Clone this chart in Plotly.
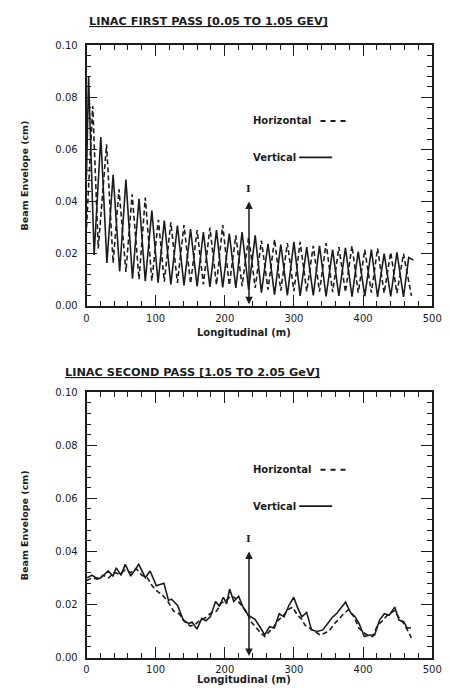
import plotly.graph_objects as go

# ---------------- data: first pass (top panel) ----------------
p1_vert_x = [0, 3, 11, 20.7, 29.5, 38.5, 48, 57, 66.5, 76, 85, 94.5, 103.5, 112.5, 122,
             131.5, 141, 150.5, 160, 169, 178.5, 188, 197, 206.5, 216, 225, 234.5, 244,
             253, 262.5, 272, 281, 290.5, 300, 309, 318.5, 328, 337, 346.5, 356, 365,
             374.5, 384, 393, 402.5, 412, 421, 430.5, 440, 449, 458.5, 466, 473]
p1_vert_y = [0.050, 0.088, 0.0195, 0.0648, 0.0164, 0.0503, 0.0132, 0.0484, 0.0104, 0.0411,
             0.0094, 0.0365, 0.0088, 0.0327, 0.0082, 0.0308, 0.0078, 0.0294, 0.0074, 0.0283,
             0.0072, 0.0290, 0.0070, 0.0277, 0.0068, 0.0283, 0.0062, 0.0270, 0.0050, 0.0238,
             0.0042, 0.0235, 0.0040, 0.0245, 0.0038, 0.0225, 0.0040, 0.0230, 0.0036, 0.0215,
             0.0038, 0.0222, 0.0035, 0.0208, 0.0037, 0.0215, 0.0034, 0.0200, 0.0036, 0.0205,
             0.0034, 0.0185, 0.0175]

p1_horz_x = [0, 9, 17, 29, 38.5, 47, 57, 66, 76, 85, 94.5, 104, 112.5, 122, 131.5, 141,
             150.5, 160, 169, 178.5, 188, 197, 206.5, 216, 225, 234.5, 244, 253, 262.5,
             272, 281, 290.5, 300, 309, 318.5, 328, 337, 346.5, 356, 365, 374.5, 384, 393,
             402.5, 412, 421, 430.5, 440, 449, 458.5, 470]
p1_horz_y = [0.030, 0.0767, 0.0220, 0.0620, 0.0164, 0.0447, 0.0130, 0.0428, 0.0101, 0.0415,
             0.0096, 0.0330, 0.0092, 0.0320, 0.0088, 0.0310, 0.0085, 0.0290, 0.0082, 0.0300,
             0.0080, 0.0310, 0.0078, 0.0270, 0.0075, 0.0265, 0.0068, 0.0250, 0.0062, 0.0255,
             0.0058, 0.0240, 0.0056, 0.0245, 0.0055, 0.0230, 0.0054, 0.0240, 0.0052, 0.0225,
             0.0052, 0.0230, 0.0050, 0.0215, 0.0050, 0.0220, 0.0048, 0.0205, 0.0048, 0.0200,
             0.0038]

# ---------------- data: second pass (bottom panel) ----------------
p2_vert_x = [1, 8, 14, 19.6, 25, 31.3, 38.3, 43, 50, 56, 64, 70, 75.6, 85, 92, 101, 112,
             118.6, 123, 131.7, 140, 148, 152.6, 159.7, 166.7, 172.7, 179, 186.7, 192, 198,
             202.6, 207, 213, 220, 227, 234, 243.7, 250.7, 257.7, 264.7, 271.7, 278.7,
             285.7, 292.7, 299.7, 305, 311.4, 318.4, 325.4, 333.4, 341.8, 348.8, 355,
             361.6, 367.7, 374.7, 381.7, 388.7, 394.3, 401.8, 409.8, 416.8, 423.8, 430.8,
             437.8, 445.8, 452, 459, 463.7, 469.3]
p2_vert_y = [0.0301, 0.0310, 0.0300, 0.0298, 0.0310, 0.0326, 0.0307, 0.0338, 0.0310, 0.0351,
             0.0307, 0.0330, 0.0351, 0.0301, 0.0326, 0.0270, 0.0280, 0.0215, 0.0220, 0.0196,
             0.0141, 0.0128, 0.0134, 0.0107, 0.0147, 0.0138, 0.0153, 0.0211, 0.0194, 0.0227,
             0.0202, 0.0258, 0.0211, 0.0231, 0.0186, 0.0160, 0.0144, 0.0116, 0.0085, 0.0116,
             0.0111, 0.0165, 0.0153, 0.0196, 0.0227, 0.0190, 0.0153, 0.0170, 0.0104, 0.0098,
             0.0104, 0.0128, 0.0150, 0.0165, 0.0185, 0.0209, 0.0170, 0.0153, 0.0128, 0.0079,
             0.0085, 0.0085, 0.0141, 0.0165, 0.0159, 0.0190, 0.0141, 0.0134, 0.0111, 0.0112]

p2_horz_x = [0, 8, 16, 24, 32, 40, 48, 56, 64, 72, 80, 88, 95, 102, 110, 118, 126, 134,
             142, 150, 157, 164, 172, 180, 188, 195, 202, 209, 216, 224, 231, 238, 244,
             251, 258, 265, 271, 277, 284, 291, 298, 305, 311, 316, 323, 330, 338, 345,
             352, 358, 365, 372, 379, 387, 394, 400, 406, 414, 421, 428, 435, 445, 453,
             459, 464, 470]
p2_horz_y = [0.0290, 0.0300, 0.0295, 0.0310, 0.0300, 0.0320, 0.0315, 0.0330, 0.0320, 0.0335,
             0.0310, 0.0300, 0.0270, 0.0250, 0.0235, 0.0210, 0.0175, 0.0165, 0.0135, 0.0118,
             0.0125, 0.0140, 0.0150, 0.0168, 0.0175, 0.0205, 0.0215, 0.0232, 0.0222, 0.0198,
             0.0175, 0.0135, 0.0115, 0.0095, 0.0079, 0.0100, 0.0116, 0.0140, 0.0155, 0.0180,
             0.0190, 0.0160, 0.0145, 0.0122, 0.0110, 0.0098, 0.0085, 0.0092, 0.0104, 0.0125,
             0.0147, 0.0165, 0.0180, 0.0153, 0.0111, 0.0095, 0.0085, 0.0079, 0.0122, 0.0138,
             0.0159, 0.0176, 0.0147, 0.0128, 0.0104, 0.0074]

arrow_pos = 235          # m, location of the marker arrow
arrow_top = 0.040        # cm

x_ticks = [0, 100, 200, 300, 400, 500]
y_ticks = [0.00, 0.02, 0.04, 0.06, 0.08, 0.10]
y_tick_text = ["0.00", "0.02", "0.04", "0.06", "0.08", "0.10"]

title_top = "LINAC FIRST PASS [0.05 TO 1.05 GEV]"
title_bot = "LINAC SECOND PASS [1.05 TO 2.05 GeV]"

# ---------------- figure ----------------
W, H = 449, 692
INK = "#1c1c1c"
FONT = "DejaVu Sans"

def px(x):
    return x / W

def py(y):
    return (H - y) / H

fig = go.Figure()

fig.add_trace(go.Scatter(x=p1_horz_x, y=p1_horz_y, mode="lines", xaxis="x", yaxis="y",
                         line=dict(color=INK, width=1.6, dash="5px,3px"), name="Horizontal"))
fig.add_trace(go.Scatter(x=p1_vert_x, y=p1_vert_y, mode="lines", xaxis="x", yaxis="y",
                         line=dict(color=INK, width=1.6), name="Vertical"))
fig.add_trace(go.Scatter(x=p2_horz_x, y=p2_horz_y, mode="lines", xaxis="x2", yaxis="y2",
                         line=dict(color=INK, width=1.6, dash="5px,3px"), name="Horizontal"))
fig.add_trace(go.Scatter(x=p2_vert_x, y=p2_vert_y, mode="lines", xaxis="x2", yaxis="y2",
                         line=dict(color=INK, width=1.6), name="Vertical"))

tickfont = dict(family=FONT, size=10, color=INK)

def xaxis(domain_y_anchor):
    return dict(domain=[px(86), px(442)], range=[0, 500], anchor=domain_y_anchor,
                tickvals=x_ticks, ticks="inside", ticklen=11, tickwidth=1.4,
                tickcolor=INK, showline=True, linewidth=1.8, linecolor=INK,
                mirror="allticks", showgrid=False, zeroline=False, tickfont=tickfont,
                ticklabeloverflow="allow", ticklabelstandoff=2,
                minor=dict(dtick=20, ticks="inside", ticklen=5, tickwidth=1.2,
                           tickcolor=INK, showgrid=False))

def yaxis(domain, x_anchor):
    return dict(domain=domain, range=[0, 0.10], anchor=x_anchor,
                tickvals=y_ticks, ticktext=y_tick_text, ticks="inside", ticklen=11,
                tickwidth=1.4, tickcolor=INK, showline=True, linewidth=1.8,
                linecolor=INK, mirror="allticks", showgrid=False, zeroline=False,
                tickfont=tickfont, ticklabeloverflow="allow", ticklabelstandoff=5,
                minor=dict(dtick=0.004, ticks="inside", ticklen=5, tickwidth=1.2,
                           tickcolor=INK, showgrid=False))

fig.update_layout(
    width=W, height=H, paper_bgcolor="white", plot_bgcolor="white",
    margin=dict(l=0, r=0, t=0, b=0), showlegend=False,
    xaxis=xaxis("y"), yaxis=yaxis([py(305), py(40)], "x"),
    xaxis2=xaxis("y2"), yaxis2=yaxis([py(663), py(393)], "x2"),
    font=dict(family=FONT, color=INK),
)

ann = []
shapes = []
# titles
ann.append(dict(text="<b><u>" + title_top + "</u></b>", x=px(86), y=py(16), xref="paper",
                yref="paper", xanchor="left", yanchor="middle", showarrow=False,
                font=dict(family=FONT, size=11.3, color=INK)))
ann.append(dict(text="<b><u>" + title_bot + "</u></b>", x=px(62), y=py(373), xref="paper",
                yref="paper", xanchor="left", yanchor="middle", showarrow=False,
                font=dict(family=FONT, size=11.3, color=INK)))
# axis titles
for yl, yc in ((332, 172), (685, 528)):
    ann.append(dict(text="<b>Longitudinal (m)</b>", x=px(248), y=py(yl), xref="paper",
                    yref="paper", xanchor="center", yanchor="middle", showarrow=False,
                    font=dict(family=FONT, size=10, color=INK)))
    ann.append(dict(text="<b>Beam Envelope (cm)</b>", x=px(22), y=py(yc), xref="paper",
                    yref="paper", xanchor="center", yanchor="middle", showarrow=False,
                    textangle=-90, font=dict(family=FONT, size=9.5, color=INK)))
# arrows with "I" label
for xr, yr in (("x", "y"), ("x2", "y2")):
    ann.append(dict(text="", x=arrow_pos, y=arrow_top, ax=arrow_pos, ay=0, xref=xr,
                    yref=yr, axref=xr, ayref=yr, showarrow=True, arrowhead=2,
                    startarrowhead=2, arrowside="end+start", arrowwidth=1.5,
                    arrowsize=1, startarrowsize=1, arrowcolor=INK))
    ann.append(dict(text="<b>I</b>", x=arrow_pos, y=arrow_top + 0.005, xref=xr, yref=yr,
                    showarrow=False, font=dict(family="DejaVu Serif", size=10, color=INK)))
# legends
for yh, yv in ((117, 154), (472, 509)):
    ann.append(dict(text="<b>Horizontal</b>", x=px(255), y=py(yh), xref="paper",
                    yref="paper", xanchor="left", yanchor="middle", showarrow=False,
                    font=dict(family=FONT, size=10, color=INK)))
    ann.append(dict(text="<b>Vertical</b>", x=px(255), y=py(yv), xref="paper",
                    yref="paper", xanchor="left", yanchor="middle", showarrow=False,
                    font=dict(family=FONT, size=10, color=INK)))
    shapes.append(dict(type="line", xref="paper", yref="paper", x0=px(327), x1=px(355),
                       y0=py(yh), y1=py(yh), line=dict(color=INK, width=2, dash="5px,5px")))
    shapes.append(dict(type="line", xref="paper", yref="paper", x0=px(305), x1=px(339),
                       y0=py(yv), y1=py(yv), line=dict(color=INK, width=1.6)))

fig.update_layout(annotations=ann, shapes=shapes)
fig.write_html("out.html", config={"displayModeBar": False},
               post_script="document.body.style.margin='0';"
                           "document.body.style.overflow='hidden';")
